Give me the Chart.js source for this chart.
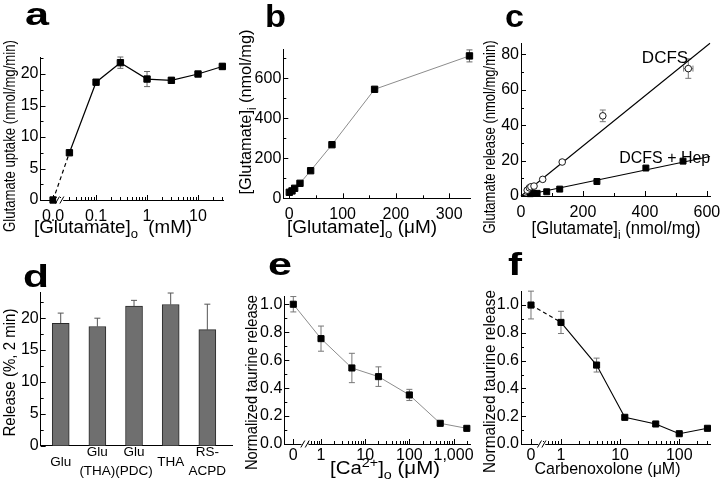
<!DOCTYPE html>
<html><head><meta charset="utf-8">
<script src="https://cdn.jsdelivr.net/npm/chart.js@4/dist/chart.umd.min.js"></script>
<style>
html,body{margin:0;padding:0;background:#fff;}
#wrap{position:relative;width:720px;height:486px;overflow:hidden;background:#fff;}
canvas{position:absolute;left:0;top:0;}
</style></head>
<body><div id="wrap">
<canvas id="ca" width="720" height="486"></canvas>
<canvas id="cb" width="720" height="486"></canvas>
<canvas id="cc" width="720" height="486"></canvas>
<canvas id="cd" width="720" height="486"></canvas>
<canvas id="ce" width="720" height="486"></canvas>
<canvas id="cf" width="720" height="486"></canvas>
</div>
<script>
// ---------- data ----------
// a: glutamate uptake vs [Glutamate]o (mM)
const aConc = [0, 0.03, 0.1, 0.3, 1, 3, 10, 30];
const aUptake = [0, 7.5, 18.7, 21.8, 19.2, 19.0, 20.0, 21.2];
const aErr = [0, 0, 0, 0.9, 1.2, 0.4, 0, 0.5];
const aXTicks = [0, 0.1, 1, 10];
const aXLabels = ['0.0', '0.1', '1', '10'];
const aYTicks = [0, 5, 10, 15, 20];

// b: [Glutamate]i vs [Glutamate]o (uM)
const bGluO = [0, 5, 10, 20, 40, 80, 160, 338];
const bGluI = [30, 37, 50, 75, 138, 268, 545, 712];
const bErr = [0, 0, 0, 0, 0, 0, 0, 30];
const bXTicks = [0, 100, 200, 300];
const bYTicks = [0, 200, 400, 600];

// c: glutamate release vs [Glutamate]i
const cDcfsX = [20, 27, 32, 42, 70, 133, 264, 540];
const cDcfsY = [3.3, 4.6, 5.2, 5.6, 9.4, 19.2, 45.3, 72];
const cDcfsYErr = [0, 0, 0, 0, 0, 0, 3.3, 5.5];
const cDcfsXErr = [0, 0, 0, 0, 0, 0, 0, 15];
const cHepX = [30, 40, 52, 83, 125, 245, 403, 523];
const cHepY = [1.3, 1.5, 1.5, 2.4, 3.9, 8.2, 15.8, 19.7];
const cFitX = [0, 610];
const cDcfsFitY = [0, 86.3];
const cHepFitY = [0, 22.3];
const cXTicks = [0, 200, 400, 600];
const cYTicks = [0, 20, 40, 60, 80];

// d: release bars
const dLabels = [['Glu'], ['Glu', '(THA)'], ['Glu', '(PDC)'], ['THA'], ['RS-', 'ACPD']];
const dRelease = [19.2, 18.7, 21.9, 22.15, 18.2];
const dErr = [1.6, 1.3, 0.9, 1.8, 4.0];
const dYTicks = [0, 5, 10, 15, 20];

// e: normalized taurine release vs [Ca2+]o (uM)
const eCa = [0, 1, 5, 20, 100, 500, 2000];
const eTaurine = [1.0, 0.754, 0.544, 0.482, 0.351, 0.148, 0.112];
const eErr = [0.055, 0.09, 0.105, 0.07, 0.04, 0.01, 0.01];
const eXTicks = [0, 1, 10, 100, 1000];
const eXLabels = ['0', '1', '10', '100', '1,000'];
const eYTicks = [0, 0.2, 0.4, 0.6, 0.8, 1.0];

// f: normalized taurine release vs carbenoxolone (uM)
const fCbx = [0, 1, 4, 12, 40, 100, 300];
const fTaurine = [1.0, 0.875, 0.568, 0.192, 0.144, 0.074, 0.113];
const fErr = [0.1, 0.08, 0.05, 0.01, 0.01, 0.01, 0.01];
const fXTicks = [0, 1, 10, 100];
const fXLabels = ['0', '1', '10', '100'];
const fYTicks = [0, 0.2, 0.4, 0.6, 0.8, 1.0];

// ---------- helpers ----------
const FONT = "'Liberation Sans', Arial, Helvetica, sans-serif";
const W = 720, H = 486, YW = 40, XH = 40;
const lg = (v, z) => v > 0 ? Math.log10(v) : z;
function minorLog(from, to) {
  const out = [];
  for (let d = Math.floor(from); d <= Math.ceil(to); d++)
    for (let m = 2; m <= 9; m++) { const v = Math.log10(m) + d; if (v > from && v < to) out.push(v); }
  return out;
}
function steps(a, b, s) { const o = []; for (let v = a; v <= b + 1e-9; v += s) o.push(+v.toFixed(6)); return o; }

function drawRich(ctx, t) {
  const size = t.size || 16;
  ctx.save();
  ctx.translate(t.x, t.y);
  if (t.rot) ctx.rotate(t.rot);
  const fontOf = p => (t.bold ? 'bold ' : '') + ((p.sub || p.sup) ? size * 0.7 : size) + 'px ' + FONT;
  const widths = t.parts.map(p => { ctx.font = fontOf(p); return ctx.measureText(p.t).width; });
  const total = widths.reduce((a, b) => a + b, 0);
  const sx = t.len ? t.len / total : (t.sx || 1);
  ctx.scale(sx, 1);
  let cx = t.align === 'left' ? 0 : -total / 2;
  ctx.textBaseline = 'alphabetic'; ctx.textAlign = 'left'; ctx.fillStyle = '#000';
  t.parts.forEach((p, i) => {
    ctx.font = fontOf(p);
    const dy = p.sub ? size * 0.3 : p.sup ? -size * 0.42 : 0;
    ctx.fillText(p.t, cx, dy);
    cx += widths[i];
  });
  ctx.restore();
}

const decor = {
  id: 'decor',
  beforeDatasetsDraw(chart, args, o) {
    if (!o || !o.errs) return;
    const ctx = chart.ctx, xs = chart.scales.x, ys = chart.scales.y;
    o.errs.forEach(e => {
      const ds = chart.data.datasets[e.ds];
      ctx.save();
      ctx.strokeStyle = e.color || '#777'; ctx.lineWidth = e.lw || 1;
      const cap = e.cap || 3;
      ds.data.forEach((d, i) => {
        const px = xs.getPixelForValue(d.x), py = ys.getPixelForValue(d.y);
        const ey = e.y ? e.y[i] : 0, ex = e.x ? e.x[i] : 0;
        ctx.beginPath();
        if (ey) {
          const top = ys.getPixelForValue(d.y + ey);
          const bot = e.up ? py : ys.getPixelForValue(d.y - ey);
          ctx.moveTo(px, top); ctx.lineTo(px, bot);
          ctx.moveTo(px - cap, top); ctx.lineTo(px + cap, top);
          if (!e.up) { ctx.moveTo(px - cap, bot); ctx.lineTo(px + cap, bot); }
        }
        if (ex) {
          const l = xs.getPixelForValue(d.x - ex), r = xs.getPixelForValue(d.x + ex);
          ctx.moveTo(l, py); ctx.lineTo(r, py);
          ctx.moveTo(l, py - cap); ctx.lineTo(l, py + cap);
          ctx.moveTo(r, py - cap); ctx.lineTo(r, py + cap);
        }
        ctx.stroke();
      });
      ctx.restore();
    });
  },
  afterDraw(chart, args, o) {
    if (!o) return;
    const ctx = chart.ctx, xs = chart.scales.x, ys = chart.scales.y, ca = chart.chartArea;
    ctx.save();
    ctx.strokeStyle = '#000'; ctx.lineWidth = 1;
    const tx = (v, len) => { const p = Math.round(xs.getPixelForValue(v)) + 0.5; ctx.beginPath(); ctx.moveTo(p, ca.bottom); ctx.lineTo(p, ca.bottom - len); ctx.stroke(); };
    const ty = (v, len) => { const p = Math.round(ys.getPixelForValue(v)) + 0.5; ctx.beginPath(); ctx.moveTo(ca.left, p); ctx.lineTo(ca.left + len, p); ctx.stroke(); };
    if (!o.noXTicks) {
      xs.ticks.forEach(t => tx(t.value, 5));
      (o.minorX || []).forEach(v => tx(v, 3));
    }
    ys.ticks.forEach(t => ty(t.value, 5));
    (o.minorY || []).forEach(v => ty(v, 3));
    if (o.brk != null) {
      const px = xs.getPixelForValue(o.brk), y = ca.bottom;
      ctx.fillStyle = '#fff';
      ctx.fillRect(px - 3.5, y - 2, 7, 4);
      ctx.beginPath();
      [-2.2, 2.2].forEach(d => { ctx.moveTo(px + d - 2, y + 3.5); ctx.lineTo(px + d + 2, y - 3.5); });
      ctx.stroke();
    }
    ctx.restore();
    (o.texts || []).forEach(t => drawRich(ctx, t));
  }
};

function axisOpts(axis, o) {
  return {
    type: 'linear', min: o.min, max: o.max, bounds: 'data', offset: false,
    grid: { display: false, drawTicks: false, offset: false },
    border: { display: true, color: '#000', width: 1 },
    ticks: {
      color: '#000', font: { family: FONT, size: o.fs || 16, lineHeight: o.lh || 1.2 },
      padding: o.pad != null ? o.pad : 2, autoSkip: false, maxRotation: 0, minRotation: 0,
      crossAlign: o.crossAlign || 'near',
      callback: (v, i) => o.labels ? o.labels[i] : String(o.ticks[i])
    },
    afterBuildTicks: s => { s.ticks = o.ticks.map(v => ({ value: v })); },
    afterFit: s => {
      if (axis === 'x') s.height = XH; else s.width = YW;
      s.paddingLeft = 0; s.paddingRight = 0; s.paddingTop = 0; s.paddingBottom = 0;
    }
  };
}

function panel(id, cfg) {
  const b = cfg.box;
  return new Chart(document.getElementById(id), {
    type: cfg.type || 'line',
    data: { datasets: cfg.datasets },
    options: {
      responsive: false, animation: false, devicePixelRatio: 1, events: [],
      layout: { padding: { left: b.l - YW, top: b.t, right: W - b.r, bottom: H - b.b - XH } },
      plugins: { legend: { display: false }, tooltip: { enabled: false }, decor: cfg.decor },
      scales: { x: axisOpts('x', cfg.x), y: axisOpts('y', cfg.y) }
    },
    plugins: [decor]
  });
}

const sqr = (r, extra) => Object.assign({
  pointStyle: 'rect', pointRadius: r, pointBackgroundColor: '#000', pointBorderColor: '#000',
  pointBorderWidth: 1, tension: 0, clip: false, fill: false
}, extra);
const T = (parts, x, y, extra) => Object.assign({ parts: parts.map(p => typeof p === 'string' ? { t: p } : p), x, y, size: 16 }, extra);
const ROT = -Math.PI / 2;
const LET = { bold: 1, size: 31, align: 'left' };

// ---------- panel a ----------
const zA = -1.843;
panel('ca', {
  box: { l: 40.5, t: 57, r: 223, b: 200 },
  datasets: [sqr(4.5, {
    data: aConc.map((c, i) => ({ x: lg(c, zA), y: aUptake[i] })),
    borderColor: '#000', borderWidth: 1.2,
    segment: { borderDash: c => c.p0DataIndex === 0 ? [4, 3] : undefined }
  })],
  x: { min: -2.09, max: 1.49, ticks: aXTicks.map(v => lg(v, zA)), labels: aXLabels, pad: 7 },
  y: { min: 0, max: 22.7, ticks: aYTicks, pad: 2 },
  decor: {
    errs: [{ ds: 0, y: aErr, color: '#666' }],
    minorX: minorLog(-1.72, 1.49), minorY: steps(2.5, 22.5, 5), brk: -1.714,
    texts: [
      T(['Glutamate uptake (nmol/mg/min)'], 15, 136, { rot: ROT, len: 192, size: 17 }),
      T(['[Glutamate]', { t: 'o', sub: 1 }, '  (mM)'], 113, 233, { size: 17.5, len: 158 }),
      T(['a'], 25, 25, Object.assign({ len: 24 }, LET))
    ]
  }
});

// ---------- panel b ----------
panel('cb', {
  box: { l: 283.3, t: 49.3, r: 470, b: 198.3 },
  datasets: [sqr(4.5, {
    data: bGluO.map((v, i) => ({ x: v, y: bGluI[i] })),
    borderColor: '#8c8c8c', borderWidth: 1
  })],
  x: { min: -11.3, max: 339, ticks: bXTicks, pad: 7 },
  y: { min: 0, max: 745, ticks: bYTicks, pad: 2 },
  decor: {
    errs: [{ ds: 0, y: bErr, color: '#666' }],
    minorX: [50, 150, 250], minorY: [100, 300, 500, 700],
    texts: [
      T(['[Glutamate]', { t: 'i', sub: 1 }, ' (nmol/mg)'], 251, 112, { rot: ROT, len: 165, size: 17 }),
      T(['[Glutamate]', { t: 'o', sub: 1 }, ' (\u03bcM)'], 362, 233, { size: 17.5, len: 150 }),
      T(['b'], 265, 27, Object.assign({ len: 21 }, LET))
    ]
  }
});

// ---------- panel c ----------
panel('cc', {
  box: { l: 521, t: 43.3, r: 710, b: 196 },
  datasets: [
    { data: cDcfsX.map((v, i) => ({ x: v, y: cDcfsY[i] })), showLine: false, pointStyle: 'circle', pointRadius: 3.3,
      pointBackgroundColor: '#fff', pointBorderColor: '#000', pointBorderWidth: 0.9, clip: false, order: 0 },
    sqr(4.2, { data: cHepX.map((v, i) => ({ x: v, y: cHepY[i] })), showLine: false, order: 0 }),
    { data: cFitX.map((v, i) => ({ x: v, y: cDcfsFitY[i] })), borderColor: '#000', borderWidth: 1.1, pointRadius: 0, clip: false, order: 2 },
    { data: cFitX.map((v, i) => ({ x: v, y: cHepFitY[i] })), borderColor: '#000', borderWidth: 1.1, pointRadius: 0, clip: false, order: 2 }
  ],
  x: { min: 0, max: 610, ticks: cXTicks, pad: 7 },
  y: { min: 0, max: 86.3, ticks: cYTicks, pad: 2 },
  decor: {
    errs: [{ ds: 0, y: cDcfsYErr, x: cDcfsXErr, color: '#777' }],
    minorX: [100, 300, 500], minorY: [10, 30, 50, 70],
    texts: [
      T(['Glutamate release (nmol/mg/min)'], 495, 137, { rot: ROT, len: 193, size: 17 }),
      T(['[Glutamate]', { t: 'i', sub: 1 }, ' (nmol/mg)'], 616, 234, { size: 17.5, len: 169 }),
      T(['DCFS'], 665, 63.3, { size: 17 }),
      T(['DCFS + Hep'], 664.7, 163.3, { size: 17, len: 91 }),
      T(['c'], 505, 27, Object.assign({ len: 19 }, LET))
    ]
  }
});

// ---------- panel d ----------
panel('cd', {
  type: 'bar',
  box: { l: 40.7, t: 292.7, r: 233, b: 445.7 },
  datasets: [{
    data: dRelease.map((v, i) => ({ x: i, y: v })),
    backgroundColor: '#6f6f6f', borderColor: '#2a2a2a', borderWidth: 1, barThickness: 17
  }],
  x: { min: -0.546, max: 4.7, ticks: [0, 1, 2, 3, 4], labels: dLabels.map(l => l.length === 1 ? l[0] : l), fs: 13.5, lh: 1.35, pad: 7, crossAlign: 'center' },
  y: { min: 0, max: 24, ticks: dYTicks, pad: 2 },
  decor: {
    errs: [{ ds: 0, y: dErr, up: true, color: '#555' }],
    noXTicks: true, minorY: steps(2.5, 22.5, 5),
    texts: [
      T(['Release (%, 2 min)'], 15, 372.5, { rot: ROT, len: 128, size: 17 }),
      T(['d'], 23, 287, Object.assign({ len: 26 }, LET))
    ]
  }
});

// ---------- panel e ----------
const zE = -0.627;
panel('ce', {
  box: { l: 284.3, t: 296.7, r: 470, b: 444 },
  datasets: [sqr(4.3, {
    data: eCa.map((v, i) => ({ x: lg(v, zE), y: eTaurine[i] })),
    borderColor: '#8c8c8c', borderWidth: 1
  })],
  x: { min: -0.831, max: 3.373, ticks: eXTicks.map(v => lg(v, zE)), labels: eXLabels, pad: 2 },
  y: { min: 0, max: 1.054, ticks: eYTicks, labels: eYTicks.map(v => v.toFixed(1)), pad: 2 },
  decor: {
    errs: [{ ds: 0, y: eErr, color: '#777' }],
    minorX: minorLog(-0.36, 3.373), minorY: steps(0.1, 0.9, 0.2), brk: -0.362,
    texts: [
      T(['Normalized taurine release'], 257, 382.5, { rot: ROT, len: 175, size: 17 }),
      T(['[Ca', { t: '2+', sup: 1 }, ']', { t: 'o', sub: 1 }, ' (\u03bcM)'], 385, 474, { size: 17.5, len: 110 }),
      T(['e'], 268, 275, Object.assign({ len: 24 }, LET))
    ]
  }
});

// ---------- panel f ----------
const zF = -0.507;
panel('cf', {
  box: { l: 521, t: 291.7, r: 710, b: 444 },
  datasets: [sqr(4.3, {
    data: fCbx.map((v, i) => ({ x: lg(v, zF), y: fTaurine[i] })),
    borderColor: '#000', borderWidth: 1.1,
    segment: { borderDash: c => c.p0DataIndex === 0 ? [4, 3] : undefined }
  })],
  x: { min: -0.676, max: 2.52, ticks: fXTicks.map(v => lg(v, zF)), labels: fXLabels, pad: 2 },
  y: { min: 0, max: 1.096, ticks: fYTicks, labels: fYTicks.map(v => v.toFixed(1)), pad: 2 },
  decor: {
    errs: [{ ds: 0, y: fErr, color: '#777' }],
    minorX: minorLog(-0.32, 2.52), minorY: steps(0.1, 0.9, 0.2), brk: -0.326,
    texts: [
      T(['Normalized taurine release'], 495, 381.5, { rot: ROT, len: 183, size: 17 }),
      T(['Carbenoxolone (\u03bcM)'], 607.5, 474, { size: 17, len: 146 }),
      T(['f'], 508, 275, Object.assign({ len: 14 }, LET))
    ]
  }
});
</script>
</body></html>
